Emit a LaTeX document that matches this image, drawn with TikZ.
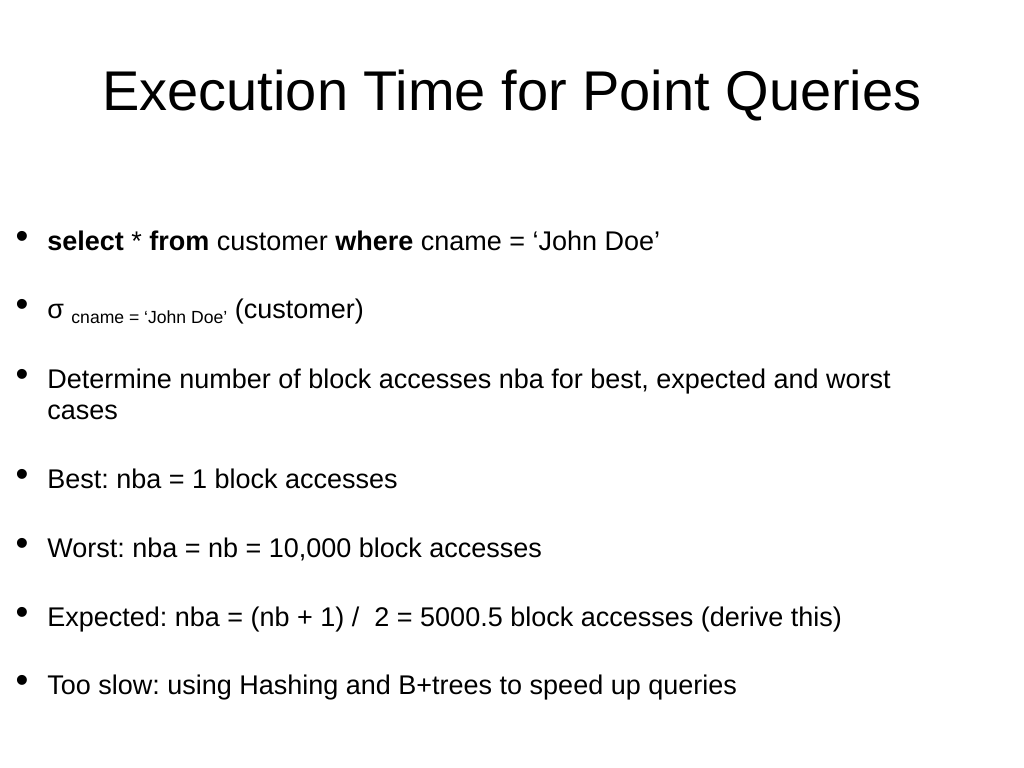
\documentclass[tikz,border=0pt]{standalone}
\usepackage{fontspec}
\setmainfont{Liberation Sans}
\frenchspacing
\tikzset{
  line/.style={anchor=base west, inner sep=0pt, font=\fontsize{19.2}{23}\selectfont},
  dot/.style={anchor=base, inner sep=0pt, font=\fontsize{26}{30}\selectfont}
}
\begin{document}
\begin{tikzpicture}[x=0.025cm, y=-0.025cm]
        \useasboundingbox (0, 0) rectangle (1024, 768);
        \node (title) at (512, 96) {\fontsize{39.8}{46}\selectfont Execution Time for Point Queries};

        \node[dot] (b1) at (22, 248) {\textbullet};
        \node[line] (q) at (47, 250) {\textbf{select} * \textbf{from} customer \textbf{where} cname = ‘John Doe’};

        \node[dot] (b2) at (22, 316) {\textbullet};
        \node[line] (sigma) at (47, 318) {σ \raisebox{-0.4ex}{\fontsize{12.5}{14}\selectfont cname = ‘John Doe’} (customer)};

        \node[dot] (b3) at (22, 386) {\textbullet};
        \node[line] (det) at (47, 388) {Determine number of block accesses nba for best, expected and worst};
        \node[line] (det2) at (47, 419) {cases};

        \node[dot] (b4) at (22, 486) {\textbullet};
        \node[line] (best) at (47, 488) {Best: nba = 1 block accesses};

        \node[dot] (b5) at (22, 555) {\textbullet};
        \node[line] (worst) at (47, 557) {Worst: nba = nb = 10,000 block accesses};

        \node[dot] (b6) at (22, 624) {\textbullet};
        \node[line] (exp) at (47, 626) {Expected: nba = (nb + 1) /\ \ 2 = 5000.5 block accesses (derive this)};

        \node[dot] (b7) at (22, 692) {\textbullet};
        \node[line] (slow) at (47, 694) {Too slow: using Hashing and B+trees to speed up queries};
    \end{tikzpicture}
\end{document}
